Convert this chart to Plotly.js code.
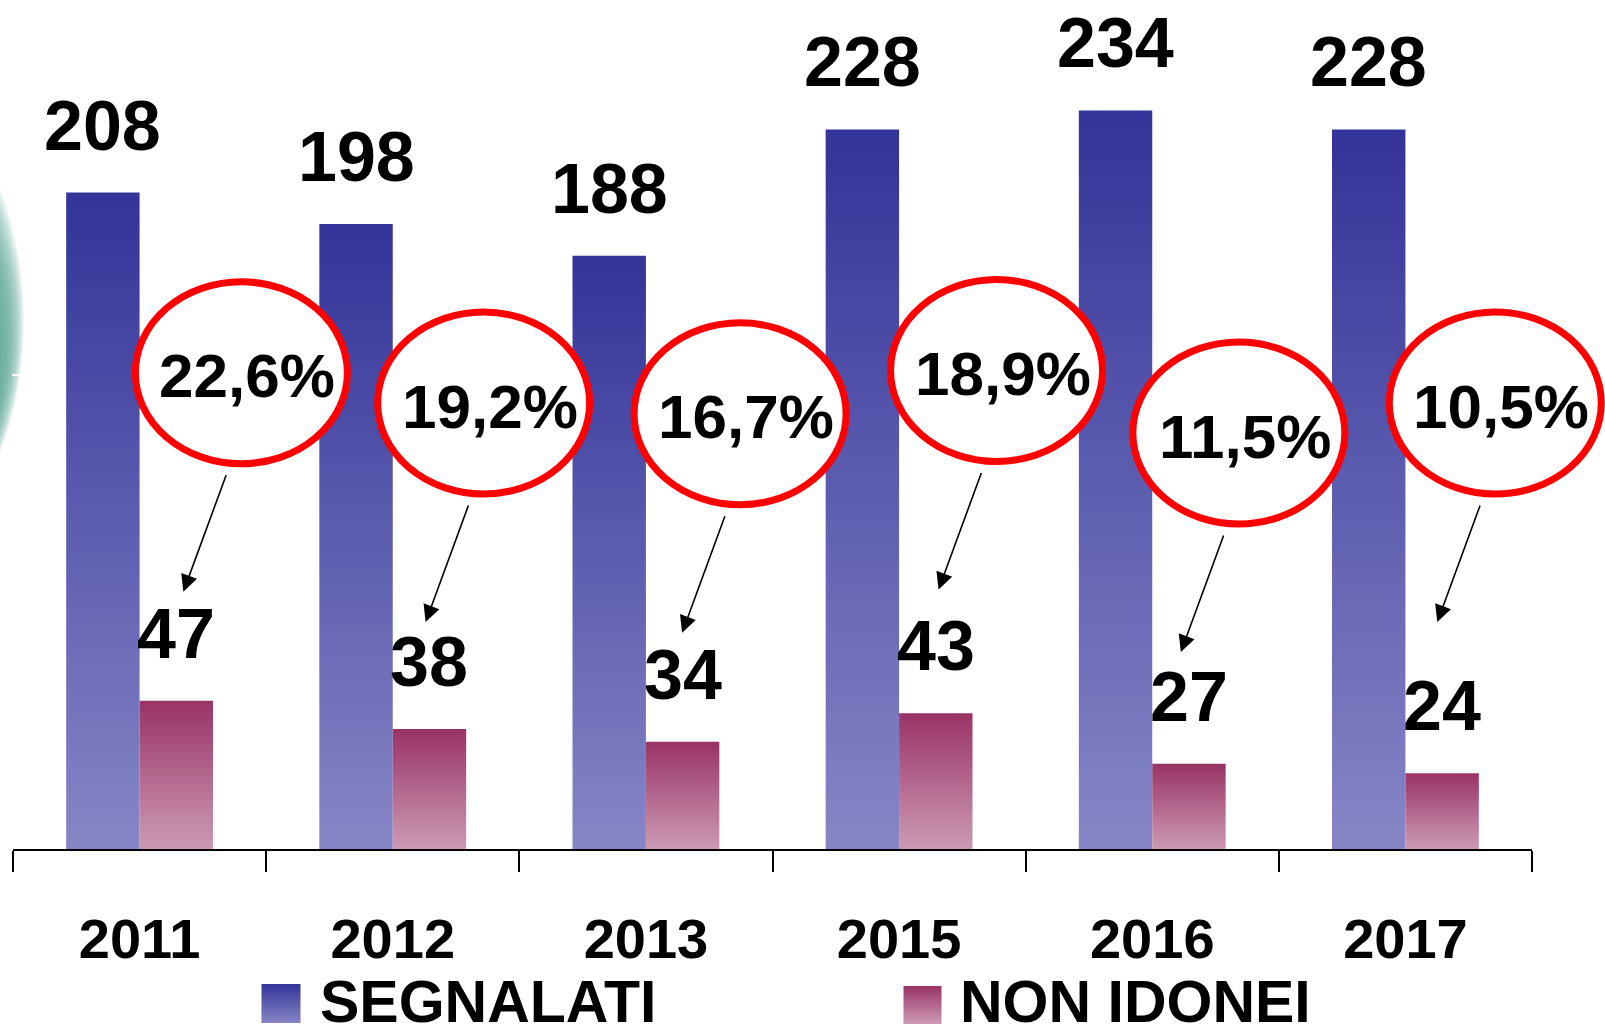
<!DOCTYPE html>
<html>
<head>
<meta charset="utf-8">
<script src="https://cdn.plot.ly/plotly-3.0.1.min.js"></script>
<style>
  html, body { margin: 0; padding: 0; background: #ffffff; }
  #chart { width: 1605px; height: 1028px; }
</style>
</head>
<body>
<div id="chart"></div>
<script>
// ---------------- DATA ----------------
const years = ['2011', '2012', '2013', '2015', '2016', '2017'];
const segnalati = [208, 198, 188, 228, 234, 228];
const nonIdonei = [47, 38, 34, 43, 27, 24];
const percentLabels = ['22,6%', '19,2%', '16,7%', '18,9%', '11,5%', '10,5%'];
const seriesNames = ['SEGNALATI', 'NON IDONEI'];

// ---------------- LAYOUT CONSTANTS ----------------
const W = 1605, H = 1028;
const FONT = 'Liberation Sans, Arial, Helvetica, sans-serif';
const blueScale = [[0, '#8686c6'], [1, '#333399']];
const pinkScale = [[0, '#cc9ab4'], [1, '#993366']];
const barW = 0.29;
const XDOM = [13 / W, 1532 / W];
const YDOM = [(H - 849) / H, 1];
const XRANGE = [-0.5, years.length - 0.5];
const YRANGE = [0, 269];
// callout ellipse placement (x offset in category units, y centre in value units)
const calloutDX = [0.402, 0.359, 0.372, 0.385, 0.342, 0.355];
const calloutY = [150.9, 141.3, 137.9, 151.6, 131.8, 141.3];

// convert axis values to paper fractions (so callouts are not clipped by the plot area)
function xPaper(v) { return XDOM[0] + (v - XRANGE[0]) / (XRANGE[1] - XRANGE[0]) * (XDOM[1] - XDOM[0]); }
function yPaper(v) { return YDOM[0] + (v - YRANGE[0]) / (YRANGE[1] - YRANGE[0]) * (YDOM[1] - YDOM[0]); }

const traces = [];
const annotations = [];
const shapes = [];

function barPolygon(x0, x1, v, scale) {
  return {
    type: 'scatter', mode: 'lines', xaxis: 'x', yaxis: 'y',
    x: [x0, x0, x1, x1, x0], y: [0, v, v, 0, 0],
    fill: 'toself', line: { width: 0, color: 'rgba(0,0,0,0)' },
    fillgradient: { type: 'vertical', colorscale: scale },
    hoverinfo: 'skip', showlegend: false
  };
}

// teal decorative glow at the left edge (edge of a large off-page disc, drawn below everything)
const glowSteps = 14, glowA = 200;
for (let k = 0; k < glowSteps; k++) {
  const t = k / (glowSteps - 1);
  const s = Math.pow(1 - t, 0.7);
  const right = 2 + 22 * s;
  const top = 300 - 112 * s;
  const bottom = 395 + 58 * s;
  const half = (bottom - top) / 2, mid = (bottom + top) / 2;
  const frac = (glowA - right) / glowA;
  const b = half / Math.sqrt(1 - frac * frac);
  shapes.push({
    type: 'circle', xref: 'paper', yref: 'paper', layer: 'below',
    x0: (right - 2 * glowA) / W, x1: right / W, y0: 1 - (mid + b) / H, y1: 1 - (mid - b) / H,
    line: { width: 0 }, fillcolor: 'rgba(62,146,132,0.085)'
  });
}
shapes.push({
  type: 'line', xref: 'paper', yref: 'paper', layer: 'above',
  x0: 12 / W, x1: 23 / W, y0: 1 - 375 / H, y1: 1 - 375 / H,
  line: { color: '#ffffff', width: 2 }
});

years.forEach((yr, i) => {
  traces.push(barPolygon(i - barW, i, segnalati[i], blueScale));
  traces.push(barPolygon(i, i + barW, nonIdonei[i], pinkScale));

  annotations.push({
    x: i - barW / 2, y: segnalati[i], xref: 'x', yref: 'y',
    text: String(segnalati[i]), showarrow: false, xanchor: 'center', yanchor: 'bottom', yshift: 26,
    font: { family: FONT, size: 70, color: '#000', weight: 'bold' }
  });
  annotations.push({
    x: i + barW / 2, y: nonIdonei[i], xref: 'x', yref: 'y',
    text: String(nonIdonei[i]), showarrow: false, xanchor: 'center', yanchor: 'bottom', yshift: 26,
    font: { family: FONT, size: 70, color: '#000', weight: 'bold' }
  });

  const cx = xPaper(i + calloutDX[i]), cy = yPaper(calloutY[i]);
  shapes.push({
    type: 'circle', xref: 'paper', yref: 'paper', layer: 'above',
    xsizemode: 'pixel', ysizemode: 'pixel', xanchor: cx, yanchor: cy,
    x0: -106, x1: 106, y0: -91, y1: 91,
    line: { color: '#ff0000', width: 7 }, fillcolor: '#ffffff'
  });
  annotations.push({
    x: cx, y: cy, xref: 'paper', yref: 'paper', text: percentLabels[i], showarrow: false,
    xanchor: 'center', yanchor: 'middle', xshift: 6, yshift: -3,
    font: { family: FONT, size: 62, color: '#000', weight: 'bold' }
  });
  annotations.push({
    x: cx, y: cy, xref: 'paper', yref: 'paper', text: ' ', showarrow: true,
    xanchor: 'center', yanchor: 'middle',
    xshift: -58, yshift: -219, ax: 43.5, ay: -118.5,
    arrowhead: 2, arrowsize: 2.1, arrowwidth: 1.6, arrowcolor: '#000', standoff: 0,
    font: { size: 1 }
  });
});

// legend swatches (own overlay subplot in page pixels)
traces.push({
  type: 'scatter', mode: 'markers', xaxis: 'x2', yaxis: 'y2',
  x: [281], y: [1003.5], name: seriesNames[0],
  marker: { symbol: 'square', size: 39, color: '#333399', gradient: { type: 'vertical', color: '#8686c6' } },
  hoverinfo: 'skip', showlegend: false, cliponaxis: false
});
traces.push({
  type: 'scatter', mode: 'markers', xaxis: 'x2', yaxis: 'y2',
  x: [922.5], y: [1005], name: seriesNames[1],
  marker: { symbol: 'square', size: 38, color: '#993366', gradient: { type: 'vertical', color: '#cc9ab4' } },
  hoverinfo: 'skip', showlegend: false, cliponaxis: false
});
annotations.push({
  xref: 'paper', yref: 'paper', x: 318 / W, y: 1 - 1002 / H, xanchor: 'left', yanchor: 'middle',
  text: seriesNames[0], showarrow: false,
  font: { family: FONT, size: 59, color: '#000', weight: 'bold' }
});
annotations.push({
  xref: 'paper', yref: 'paper', x: 958 / W, y: 1 - 1002 / H, xanchor: 'left', yanchor: 'middle',
  text: seriesNames[1], showarrow: false,
  font: { family: FONT, size: 59, color: '#000', weight: 'bold' }
});

const boundaries = [];
for (let k = 0; k <= years.length; k++) boundaries.push(k - 0.5);

const layout = {
  width: W, height: H,
  margin: { l: 0, r: 0, t: 0, b: 0, pad: 0 },
  paper_bgcolor: '#ffffff', plot_bgcolor: 'rgba(0,0,0,0)',
  showlegend: false,
  font: { family: FONT, color: '#000' },
  xaxis: {
    domain: XDOM, range: XRANGE,
    tickmode: 'array', tickvals: years.map((_, i) => i), ticktext: years,
    ticks: '', showgrid: false, zeroline: false,
    showline: true, linecolor: '#000', linewidth: 2,
    tickfont: { family: FONT, size: 56, color: '#000', weight: 'bold' },
    ticklabelstandoff: 40,
    minor: { tickmode: 'array', tickvals: boundaries, ticks: 'outside', ticklen: 21, tickwidth: 2, tickcolor: '#000', showgrid: false },
    fixedrange: true
  },
  yaxis: {
    domain: YDOM, range: YRANGE,
    visible: false, showgrid: false, zeroline: false, fixedrange: true
  },
  xaxis2: { domain: [0, 1], range: [0, W], visible: false, anchor: 'y2', fixedrange: true },
  yaxis2: { domain: [0, 1], range: [H, 0], visible: false, anchor: 'x2', fixedrange: true },
  annotations: annotations,
  shapes: shapes
};

Plotly.newPlot('chart', traces, layout, { displayModeBar: false, staticPlot: true });
</script>
</body>
</html>
